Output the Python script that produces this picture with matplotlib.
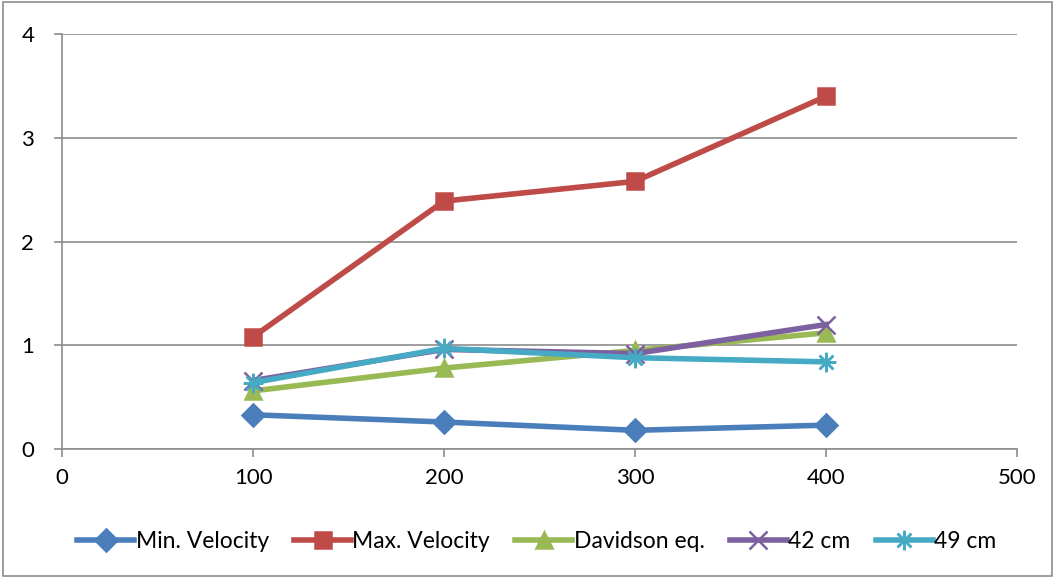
import matplotlib
matplotlib.use("Agg")
import matplotlib.pyplot as plt
from matplotlib.patches import Rectangle

plt.rcParams['font.family'] = ['Lato', 'DejaVu Sans']

# flow rate vs velocity
x = [100, 200, 300, 400]
min_velocity = [0.33, 0.26, 0.18, 0.23]
max_velocity = [1.08, 2.39, 2.58, 3.40]
davidson = [0.56, 0.78, 0.95, 1.12]
cm42 = [0.66, 0.96, 0.92, 1.20]
cm49 = [0.64, 0.97, 0.88, 0.84]

series = [
    ("Min. Velocity", min_velocity, '#4A7EBB', 'D', 11),
    ("Max. Velocity", max_velocity, '#BE4B48', 's', 12),
    ("Davidson eq.", davidson, '#98B954', '^', 12),
    ("42 cm", cm42, '#7D60A0', 'x', 13),
    ("49 cm", cm49, '#46AAC5', (8, 2, 0), 14),
]

fig = plt.figure(figsize=(10.55, 5.78), dpi=100)
ax = fig.add_axes([0.0588, 0.2232, 0.9052, 0.7178])

for label, y, color, marker, ms in series:
    ax.plot(x, y, color=color, lw=4, label=label, marker=marker,
            ms=ms, mew=1.8, mec=color, mfc=color, zorder=3)

ax.set_xlim(0, 500)
ax.set_ylim(0, 4)
ax.set_xticks([0, 100, 200, 300, 400, 500])
ax.set_yticks([0, 1, 2, 3, 4])
ax.grid(axis='y', color='#8C8C8C', lw=1.2)
ax.set_axisbelow(True)
for s in ['top', 'right']:
    ax.spines[s].set_visible(False)
for s in ['left', 'bottom']:
    ax.spines[s].set_color('#8C8C8C')
    ax.spines[s].set_linewidth(1.2)
ax.tick_params(axis='both', direction='out', length=6, color='#8C8C8C',
               width=1.2, labelsize=16, labelcolor='black')
ax.tick_params(axis='y', pad=14)
ax.tick_params(axis='x', pad=8)

ax.legend(loc='center', bbox_to_anchor=(0.497, -0.222), ncol=5,
          frameon=False, fontsize=16.5, handlelength=2.5, handletextpad=0.05,
          columnspacing=1.1)

fig.patches.append(Rectangle((0.003, 0.003), 0.994, 0.994,
                             transform=fig.transFigure, fill=False,
                             edgecolor='#8C8C8C', lw=1.2))

fig.savefig('out.png', dpi=100)
